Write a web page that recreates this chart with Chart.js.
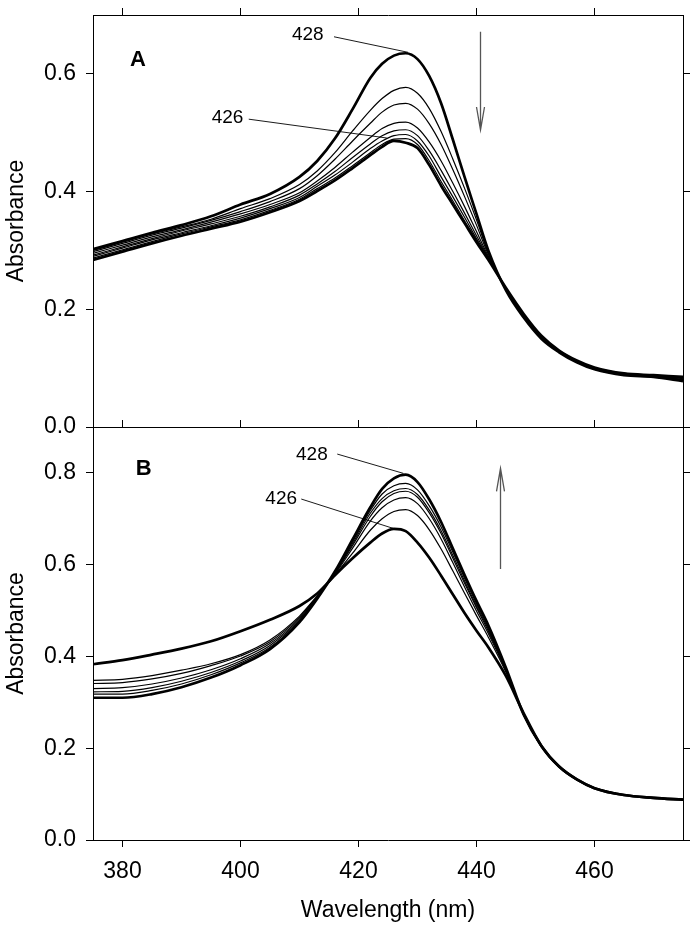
<!DOCTYPE html>
<html>
<head>
<meta charset="utf-8">
<script src="https://cdn.jsdelivr.net/npm/chart.js@4.4.1/dist/chart.umd.min.js"></script>
<style>
html,body{margin:0;padding:0;background:#fff;}
#wrap{position:relative;width:700px;height:931px;overflow:hidden;}
#ca{position:absolute;left:0;top:0;}
#cb{position:absolute;left:0;top:412px;}
</style>
</head>
<body>
<div id="wrap">
<canvas id="ca" width="700" height="445" style="width:700px;height:445px"></canvas>
<canvas id="cb" width="700" height="519" style="width:700px;height:519px"></canvas>
</div>
<script>
// ---- data ----
const wavelengths = [375,380,385,390,395,400,405,410,413,416,419,422,424,426,428,430,432,434,436,438,440,442,445,448,451,454,457,460,465,470,475];

const xTickValues = [380,400,420,440,460];
const yTickValuesA = [0,0.2,0.4,0.6];
const yTickValuesB = [0,0.2,0.4,0.6,0.8];

// Panel A: 8 spectra (first = 428 nm thick, last = 426 nm thick)
const panelA_1 = [0.302,0.316,0.330,0.343,0.358,0.378,0.396,0.425,0.452,0.490,0.540,0.593,0.617,0.631,0.635,0.625,0.596,0.550,0.488,0.424,0.362,0.300,0.232,0.186,0.150,0.127,0.110,0.098,0.088,0.085,0.078];
const panelA_2 = [0.300,0.314,0.328,0.340,0.353,0.371,0.388,0.412,0.435,0.466,0.503,0.538,0.558,0.572,0.577,0.567,0.541,0.502,0.455,0.405,0.352,0.296,0.233,0.187,0.151,0.127,0.110,0.098,0.089,0.085,0.079];
const panelA_3 = [0.298,0.312,0.326,0.338,0.351,0.366,0.383,0.405,0.427,0.455,0.486,0.516,0.535,0.547,0.550,0.540,0.515,0.480,0.437,0.391,0.343,0.293,0.234,0.188,0.152,0.128,0.111,0.099,0.089,0.086,0.080];
const panelA_4 = [0.295,0.309,0.323,0.335,0.348,0.362,0.378,0.398,0.418,0.441,0.467,0.492,0.507,0.516,0.518,0.508,0.484,0.452,0.414,0.374,0.332,0.290,0.234,0.189,0.153,0.128,0.111,0.099,0.090,0.086,0.081];
const panelA_5 = [0.292,0.306,0.320,0.333,0.345,0.358,0.374,0.394,0.413,0.434,0.458,0.481,0.495,0.503,0.505,0.495,0.469,0.436,0.400,0.363,0.325,0.288,0.235,0.190,0.153,0.129,0.112,0.100,0.090,0.087,0.082];
const panelA_6 = [0.290,0.304,0.318,0.330,0.342,0.355,0.371,0.390,0.409,0.428,0.450,0.473,0.486,0.495,0.497,0.486,0.460,0.425,0.391,0.356,0.320,0.287,0.235,0.190,0.154,0.129,0.112,0.100,0.091,0.087,0.083];
const panelA_7 = [0.287,0.301,0.315,0.328,0.340,0.352,0.368,0.387,0.405,0.423,0.444,0.466,0.480,0.489,0.490,0.480,0.452,0.417,0.384,0.350,0.317,0.285,0.236,0.191,0.154,0.130,0.113,0.101,0.091,0.088,0.084];
const panelA_8 = [0.284,0.298,0.312,0.325,0.337,0.349,0.365,0.384,0.401,0.419,0.440,0.462,0.476,0.486,0.483,0.474,0.445,0.410,0.378,0.346,0.314,0.284,0.236,0.192,0.155,0.130,0.113,0.101,0.091,0.088,0.085];
const panelA_thick = [true,false,false,false,false,false,false,true];

// Panel B: 7 spectra (first = 426 nm thick, last = 428 nm thick)
const panelB_1 = [0.383,0.392,0.404,0.417,0.433,0.455,0.480,0.510,0.537,0.577,0.614,0.648,0.668,0.678,0.673,0.648,0.615,0.576,0.535,0.494,0.456,0.420,0.357,0.276,0.205,0.160,0.132,0.113,0.098,0.092,0.088];
const panelB_2 = [0.348,0.350,0.358,0.370,0.384,0.404,0.436,0.488,0.532,0.577,0.625,0.675,0.700,0.716,0.720,0.707,0.676,0.634,0.586,0.537,0.489,0.442,0.365,0.273,0.204,0.159,0.131,0.113,0.098,0.092,0.088];
const panelB_3 = [0.341,0.343,0.351,0.363,0.380,0.401,0.432,0.485,0.531,0.579,0.636,0.695,0.724,0.741,0.746,0.733,0.700,0.656,0.604,0.551,0.499,0.450,0.368,0.273,0.204,0.160,0.132,0.113,0.098,0.092,0.088];
const panelB_4 = [0.330,0.332,0.340,0.353,0.371,0.395,0.428,0.482,0.530,0.581,0.642,0.705,0.737,0.755,0.760,0.747,0.713,0.668,0.614,0.559,0.506,0.455,0.370,0.273,0.204,0.160,0.132,0.113,0.098,0.092,0.088];
const panelB_5 = [0.323,0.324,0.332,0.346,0.365,0.390,0.424,0.479,0.529,0.582,0.646,0.712,0.744,0.761,0.766,0.753,0.719,0.674,0.620,0.564,0.510,0.459,0.372,0.273,0.205,0.160,0.132,0.113,0.098,0.092,0.088];
const panelB_6 = [0.318,0.318,0.326,0.340,0.360,0.386,0.420,0.477,0.528,0.583,0.650,0.718,0.754,0.772,0.777,0.763,0.728,0.682,0.627,0.570,0.515,0.463,0.373,0.273,0.205,0.160,0.132,0.113,0.098,0.092,0.088];
const panelB_7 = [0.310,0.310,0.318,0.333,0.354,0.381,0.416,0.475,0.526,0.585,0.655,0.725,0.765,0.788,0.796,0.780,0.742,0.693,0.635,0.577,0.521,0.468,0.375,0.273,0.205,0.160,0.132,0.113,0.098,0.092,0.088];
const panelB_thick = [true,false,false,false,false,false,true];

// annotations (data coordinates)
const annotA = {
  panel: {text:'A', x:382.6, y:0.6235},
  labels: [
    {text:'428', x:411.4, y:0.666, from:[415.85,0.663], to:[428.4,0.6366]},
    {text:'426', x:397.8, y:0.525, from:[401.4,0.523], to:[424.8,0.491]}
  ],
  arrow: {x:440.6, tail:0.6716, tip:0.5046}
};
const annotB = {
  panel: {text:'B', x:383.6, y:0.8085},
  labels: [
    {text:'428', x:412.1, y:0.8405, from:[416.4,0.841], to:[427.6,0.799]},
    {text:'426', x:406.9, y:0.743, from:[410.3,0.743], to:[425.9,0.679]}
  ],
  arrow: {x:444.0, tail:0.5905, tip:0.810}
};

// ---- rendering ----
const FONT = '"Liberation Sans", Arial, Helvetica, sans-serif';
Chart.defaults.font.family = FONT;
Chart.defaults.font.size = 23;
Chart.defaults.color = '#000';

function mkData(arr){ return wavelengths.map((w,i)=>({x:w, y:arr[i]})); }
function mkDatasets(series, thick){
  return series.map((s,i)=>({
    data: mkData(s),
    borderColor:'#000',
    borderWidth: thick[i] ? 2.7 : 1.2,
    pointRadius:0,
    fill:false,
    cubicInterpolationMode:'monotone'
  }));
}

function annotPlugin(cfg){
  return {
    id:'annot',
    afterDatasetsDraw(chart){
      const ctx = chart.ctx, x = chart.scales.x, y = chart.scales.y;
      ctx.save();
      ctx.fillStyle = '#000';
      ctx.textAlign = 'center';
      ctx.textBaseline = 'middle';
      ctx.font = 'bold 22px ' + FONT;
      ctx.fillText(cfg.panel.text, x.getPixelForValue(cfg.panel.x), y.getPixelForValue(cfg.panel.y));
      ctx.font = '19px ' + FONT;
      ctx.strokeStyle = '#000';
      ctx.lineWidth = 0.9;
      for (const l of cfg.labels){
        ctx.fillText(l.text, x.getPixelForValue(l.x), y.getPixelForValue(l.y));
        ctx.beginPath();
        ctx.moveTo(x.getPixelForValue(l.from[0]), y.getPixelForValue(l.from[1]));
        ctx.lineTo(x.getPixelForValue(l.to[0]), y.getPixelForValue(l.to[1]));
        ctx.stroke();
      }
      const ax = Math.round(x.getPixelForValue(cfg.arrow.x)) + 0.5;
      const a1 = y.getPixelForValue(cfg.arrow.tail), a2 = y.getPixelForValue(cfg.arrow.tip);
      const dir = Math.sign(a2 - a1);
      ctx.strokeStyle = '#555';
      ctx.lineWidth = 1.3;
      ctx.beginPath();
      ctx.moveTo(ax, a1); ctx.lineTo(ax, a2);
      ctx.moveTo(ax - 4, a2 - dir*23); ctx.lineTo(ax, a2); ctx.lineTo(ax + 4, a2 - dir*23);
      ctx.stroke();
      ctx.restore();
    }
  };
}

function tickSetter(vals){ return s => { s.ticks = vals.map(v=>({value:v})); }; }

function buildScales(opts){
  const {ymax, yTicks, showXLabels, bottomHeight, bottomTicks} = opts;
  const borderCfg = {display:true, color:'#000', width:1};
  return {
    x: {
      type:'linear', position:'bottom', min:375, max:475,
      afterBuildTicks: tickSetter(xTickValues),
      ticks:{display:showXLabels, padding:11, color:'#000', font:{size:23}, maxRotation:0, callback:v=>String(v)},
      grid:{display:true, drawOnChartArea:false, drawTicks:bottomTicks, tickLength:7, color:'#000', lineWidth:1},
      border: borderCfg,
      title:{display:showXLabels, text:'Wavelength (nm)', color:'#000', font:{size:23}, padding:{top:0,bottom:7}},
      afterFit: s=>{ s.height = bottomHeight; s.paddingLeft = 0; s.paddingRight = 0; }
    },
    xTop: {
      type:'linear', position:'top', min:375, max:475,
      afterBuildTicks: tickSetter(xTickValues),
      ticks:{display:false},
      grid:{display:true, drawOnChartArea:false, drawTicks:true, tickLength:7, color:'#000', lineWidth:1},
      border: borderCfg,
      afterFit: s=>{ s.height = 7; s.paddingLeft = 0; s.paddingRight = 0; }
    },
    y: {
      type:'linear', position:'left', min:0, max:ymax,
      afterBuildTicks: tickSetter(yTicks),
      ticks:{display:true, padding:10, color:'#000', font:{size:23}, callback:v=>Number(v).toFixed(1)},
      grid:{display:true, drawOnChartArea:false, drawTicks:true, tickLength:7, color:'#000', lineWidth:1},
      border: borderCfg,
      title:{display:true, text:'Absorbance', color:'#000', font:{size:23}, padding:{top:3,bottom:0}},
      afterFit: s=>{ s.width = 93; s.paddingTop = 0; s.paddingBottom = 0; }
    },
    yRight: {
      type:'linear', position:'right', min:0, max:ymax,
      afterBuildTicks: tickSetter(yTicks),
      ticks:{display:false},
      grid:{display:true, drawOnChartArea:false, drawTicks:true, tickLength:7, color:'#000', lineWidth:1},
      border: borderCfg,
      afterFit: s=>{ s.width = 7; s.paddingTop = 0; s.paddingBottom = 0; }
    }
  };
}

new Chart(document.getElementById('ca'), {
  type:'line',
  data:{datasets: mkDatasets([panelA_1,panelA_2,panelA_3,panelA_4,panelA_5,panelA_6,panelA_7,panelA_8], panelA_thick)},
  options:{
    responsive:false, animation:false, events:[],
    layout:{padding:{left:0, top:8, right:10, bottom:18}},
    plugins:{legend:{display:false}, tooltip:{enabled:false}},
    scales: buildScales({ymax:0.7, yTicks:yTickValuesA, showXLabels:false, bottomHeight:0, bottomTicks:false})
  },
  plugins:[annotPlugin(annotA)]
});

new Chart(document.getElementById('cb'), {
  type:'line',
  data:{datasets: mkDatasets([panelB_1,panelB_2,panelB_3,panelB_4,panelB_5,panelB_6,panelB_7], panelB_thick)},
  options:{
    responsive:false, animation:false, events:[],
    layout:{padding:{left:0, top:8, right:10, bottom:0}},
    plugins:{legend:{display:false}, tooltip:{enabled:false}},
    scales: buildScales({ymax:0.9, yTicks:yTickValuesB, showXLabels:true, bottomHeight:91, bottomTicks:true})
  },
  plugins:[annotPlugin(annotB)]
});
</script>
</body>
</html>
